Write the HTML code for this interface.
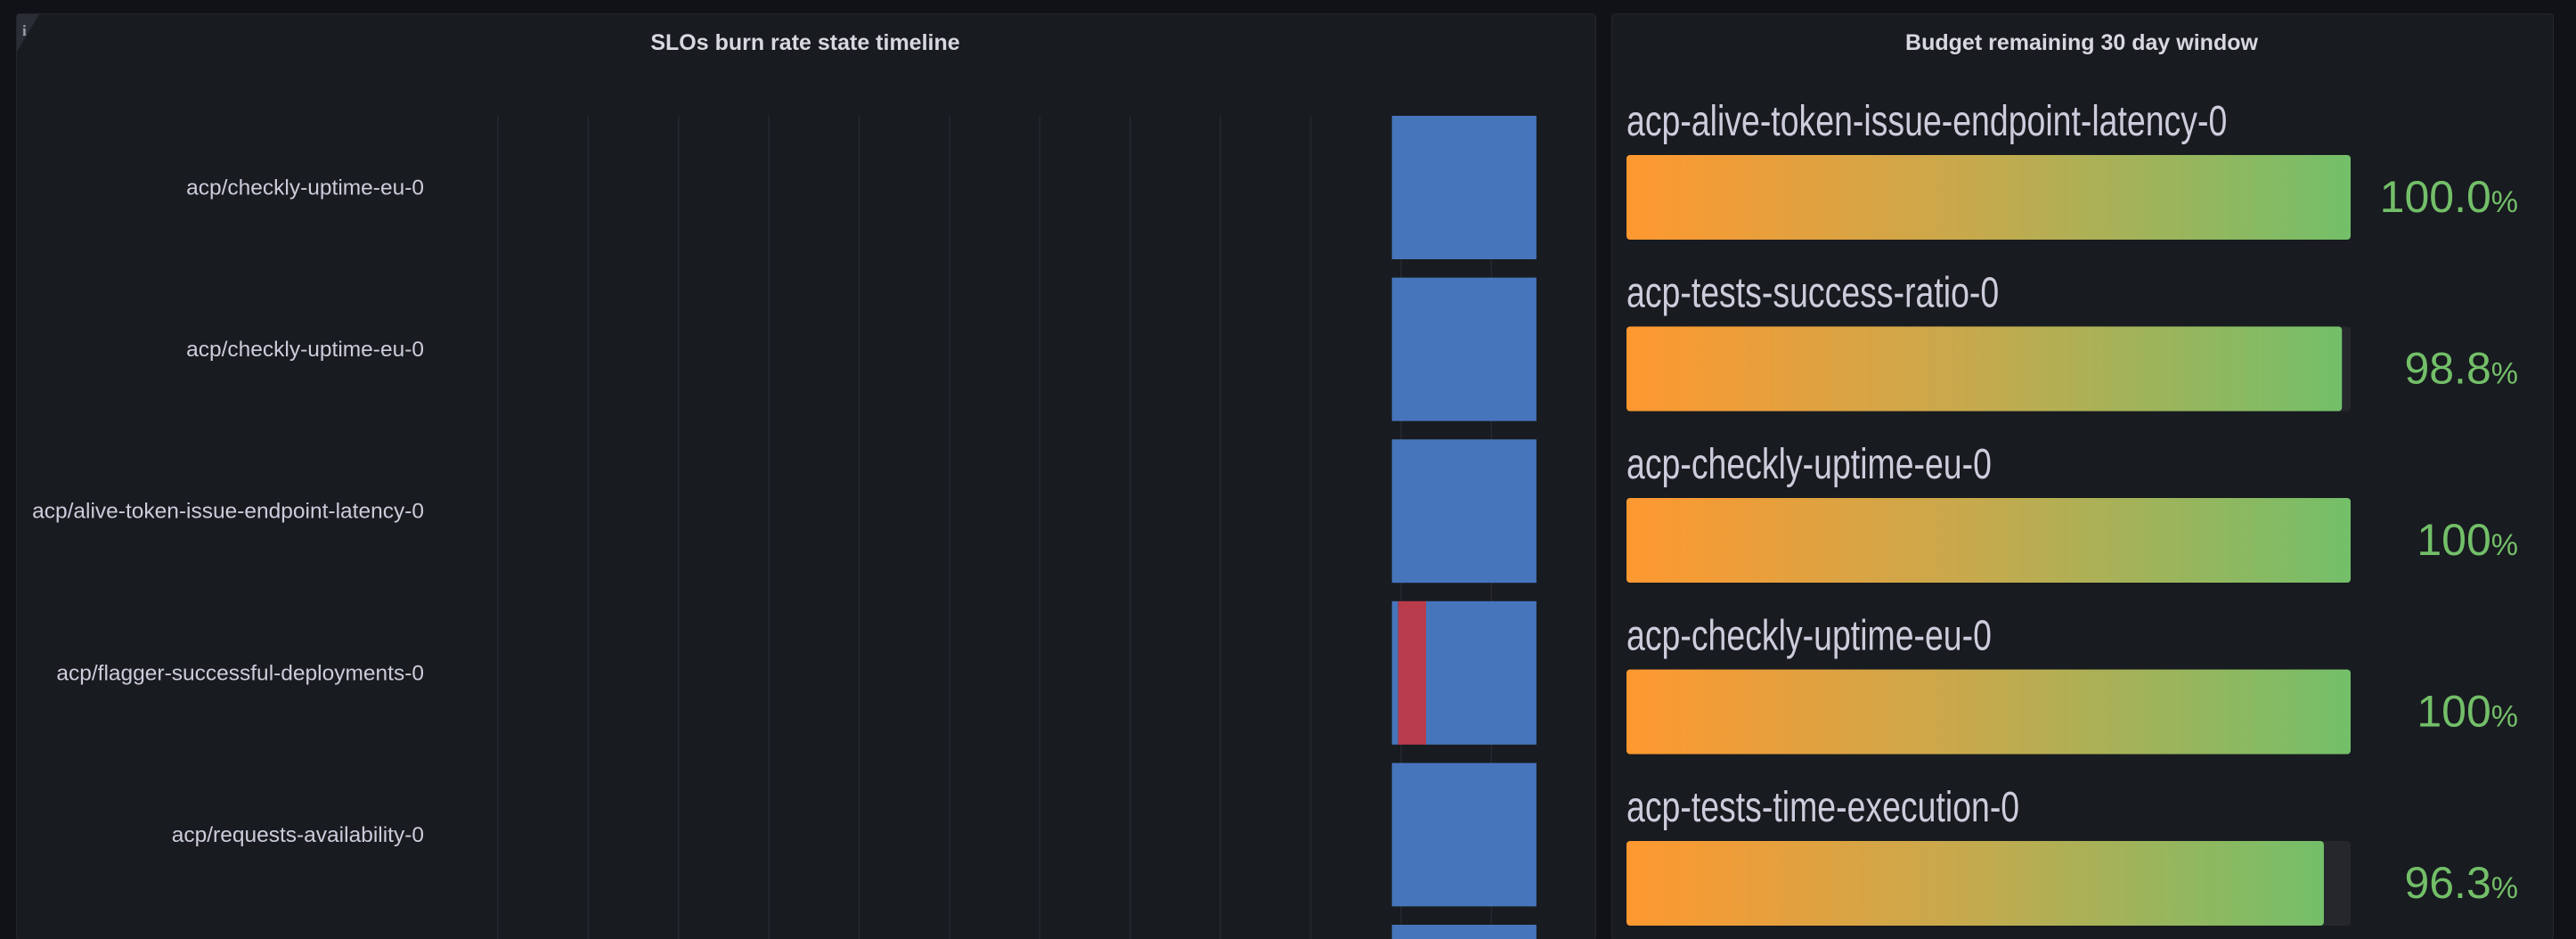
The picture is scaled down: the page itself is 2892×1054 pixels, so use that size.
<!DOCTYPE html>
<html><head><meta charset="utf-8"><style>
html,body{margin:0;padding:0;background:#111217;overflow:hidden;width:2892px;height:1054px;}
svg{display:block;font-family:"Liberation Sans",sans-serif;}
</style></head><body>
<svg id="root" width="2892" height="1054" viewBox="0 0 2892 1054" xmlns="http://www.w3.org/2000/svg">
<defs>
<linearGradient id="bg" x1="0" x2="1" y1="0" y2="0">
<stop offset="0" stop-color="#ff9830"/><stop offset="0.5" stop-color="#c4aa4e"/><stop offset="1" stop-color="#73bf69"/>
</linearGradient>
<clipPath id="lclip"><rect x="18" y="15" width="1773" height="1039"/></clipPath>
</defs>
<rect x="0" y="0" width="2892" height="1054" fill="#111217"/>
<g>
<rect x="18.5" y="15.5" width="1773" height="1040" rx="4" fill="#181b1f" stroke="#24262c"/>
<polygon points="19,16 44,16 19,58" fill="#2a2d35"/>
<text x="25" y="40" font-size="17" font-weight="bold" fill="#9fa1ad" font-family="Liberation Serif,serif">i</text>
<text x="904" y="56" font-size="25" font-weight="bold" fill="#d8d9e0" text-anchor="middle">SLOs burn rate state timeline</text>
<g id="grid"></g>
<g id="rows" clip-path="url(#lclip)"></g>
</g>
<g>
<rect x="1809.5" y="15.5" width="1057" height="1040" rx="4" fill="#181b1f" stroke="#24262c"/>
<text x="2337" y="56" font-size="25" font-weight="bold" fill="#d8d9e0" text-anchor="middle">Budget remaining 30 day window</text>
<g id="gauges"></g>
</g>
</svg>
<script>
const rowLabels = ["acp/checkly-uptime-eu-0","acp/checkly-uptime-eu-0","acp/alive-token-issue-endpoint-latency-0","acp/flagger-successful-deployments-0","acp/requests-availability-0","acp/extra-0"];
// state segments per row over the time axis (0..1)
const segStart = [[0.8995],[0.8995],[0.8995],[0.8995,0.9035,0.9215],[0.8995],[0.8995]];
const segEnd   = [[0.9925],[0.9925],[0.9925],[0.9035,0.9215,0.9925],[0.9925],[0.9925]];
const segState = [["ok"],["ok"],["ok"],["ok","burn","ok"],["ok"],["ok"]];
const gridTicks = [0,1,2,3,4,5,6,7,8,9,10,11];

const gaugeLabels = ["acp-alive-token-issue-endpoint-latency-0","acp-tests-success-ratio-0","acp-checkly-uptime-eu-0","acp-checkly-uptime-eu-0","acp-tests-time-execution-0"];
const gaugeValues = [100.0,98.8,100,100,96.3];
const gaugeText = ["100.0","98.8","100","100","96.3"];

const NS="http://www.w3.org/2000/svg";
function mk(tag,attrs,parent){const e=document.createElementNS(NS,tag);for(const k in attrs)e.setAttribute(k,attrs[k]);parent.appendChild(e);return e;}
const X0=-7,X1=1738;
const xs=f=>X0+(X1-X0)*f;
const rowY=i=>130+i*181.6;
const rowH=161;
const grid=document.getElementById('grid');
gridTicks.forEach(t=>{
  const x=559+t*101.4;
  const l=mk('line',{x1:x,x2:x,y1:130,y2:1054,stroke:'#262930','stroke-width':1.5},grid);
  
  
});
const rows=document.getElementById('rows');
rowLabels.forEach((lab,i)=>{
  const y=rowY(i);
  const t=mk('text',{x:476,y:y+rowH/2+8,'font-size':24.5,fill:'#ccccdc','text-anchor':'end'},rows);
  t.textContent=lab;
  
  
  segStart[i].forEach((s,j)=>{
    const r=mk('rect',{x:xs(s),y:y,width:xs(segEnd[i][j])-xs(s),height:rowH,fill:segState[i][j]==='burn'?'#b83c4c':'#4675bb'},rows);
    
    
  });
});
const g=document.getElementById('gauges');
const BX=1826,BW=813;
gaugeLabels.forEach((lab,i)=>{
  const top=174+i*192.5;
  const t=mk('text',{x:1826,y:top-22,'font-size':48,fill:'#ccccdc'},g);
  t.textContent=lab;
  
  
  const w=t.getComputedTextLength();
  if(w>0){t.setAttribute('textLength',w*0.78);t.setAttribute('lengthAdjust','spacingAndGlyphs');}
  const track=mk('rect',{x:BX,y:top,width:BW,height:95,rx:4,fill:'#25272d'},g);
  
  
  const bar=mk('rect',{x:BX,y:top,width:BW*gaugeValues[i]/100,height:95,rx:4,fill:'url(#bg)'},g);
  
  
  const v=mk('text',{x:2827,y:top+64,'font-size':50,fill:'#73bf69','text-anchor':'end'},g);
  
  
  v.textContent=gaugeText[i];
  const p=mk('tspan',{'font-size':34},v);
  p.textContent='%';
});
</script>
</body></html>
